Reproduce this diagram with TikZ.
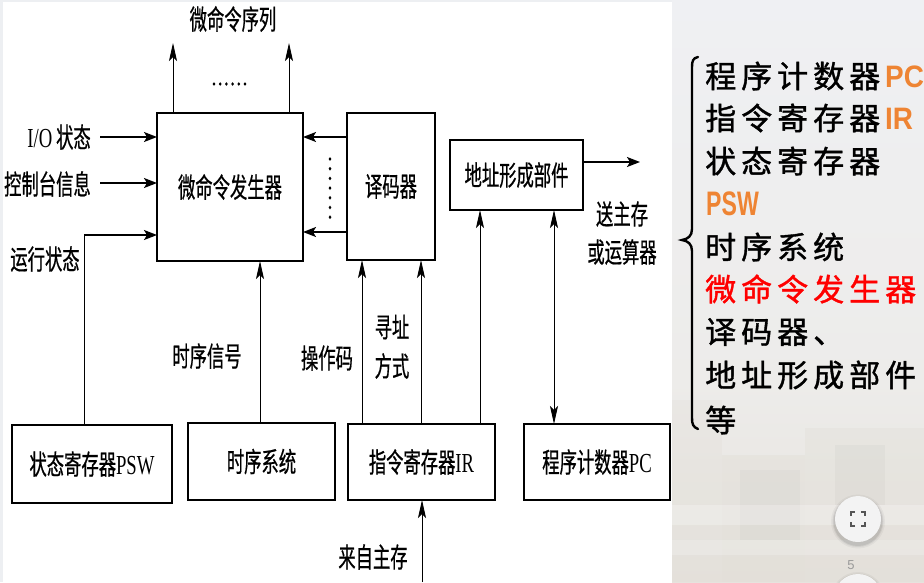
\documentclass[tikz,border=0pt]{standalone}
\usepackage{fontspec}
\setmainfont{Liberation Serif}
% narrow faces for the block diagram
\newfontfamily\dgcjk[FakeStretch=0.63,FakeBold=0.6]{Noto Sans CJK SC}
\newfontfamily\dglat[FakeStretch=0.68]{Liberation Serif}
% faces for the list on the right
\newfontfamily\listcjk[FakeBold=1.2]{Noto Sans CJK SC}
\newfontfamily\listlat{Liberation Sans}
\usetikzlibrary{arrows.meta}

\definecolor{pagebg}{HTML}{EDEFF2}
\definecolor{phototop}{HTML}{EFF0F3}
\definecolor{photomid}{HTML}{EDECEA}
\definecolor{photobot}{HTML}{E6E3DE}
\definecolor{bldg}{HTML}{D9D3C8}
\definecolor{hl}{HTML}{EE8433}
\definecolor{btn}{HTML}{F3F3F3}
\definecolor{icon}{HTML}{555555}
\definecolor{pgnum}{HTML}{9A9A9A}

\newcommand\dgfont{\fontsize{27.5}{30}\selectfont\dgcjk}
\newcommand\lt[1]{{\dglat #1}}

% letter-spaced characters for the list
\makeatletter
\def\spaced#1{\spaced@#1\relax}
\def\spaced@#1{\ifx\relax#1\else#1\hspace{5pt}\expandafter\spaced@\fi}
\makeatother
\newcommand\listfont{\fontsize{31}{36}\selectfont\listcjk}
\newcommand\hlat[2][0.9]{{\color{hl}\listlat\bfseries\scalebox{#1}[1]{#2}}}

\begin{document}
\begin{tikzpicture}[x=1pt,y=-1pt,
  box/.style={draw,line width=2.2pt,inner sep=0pt,outer sep=0pt,fill=white,font=\dgfont},
  lab/.style={inner sep=0pt,font=\dgfont},
  harr/.style={line width=1.5pt,-{Stealth[length=13pt,width=10pt,inset=3pt]}},
  varr/.style={line width=0.9pt,-{Stealth[length=18pt,width=8pt,inset=4pt]}},
  vboth/.style={line width=0.9pt,{Stealth[length=18pt,width=8pt,inset=4pt]}-{Stealth[length=18pt,width=8pt,inset=4pt]}},
  vline/.style={line width=0.9pt},
  item/.style={anchor=west,inner sep=0pt,font=\listfont}]

\useasboundingbox (0,0) rectangle (924,582);
\begin{scope}
\clip (0,0) rectangle (924,582);

% page and photo backdrop
\fill[pagebg] (0,0) rectangle (924,582);
\shade[top color=phototop, bottom color=photomid] (672,0) rectangle (924,380);
\shade[top color=photomid, bottom color=photobot] (672,380) rectangle (924,582);
\fill[bldg,opacity=0.15] (672,400) rectangle (722,582);
\fill[bldg,opacity=0.22] (722,455) rectangle (805,582);
\fill[bldg,opacity=0.18] (805,428) rectangle (924,582);
\fill[gray,opacity=0.06] (835,445) rectangle (885,505);
\fill[gray,opacity=0.05] (740,470) rectangle (800,540);
\fill[white,opacity=0.25] (672,505) rectangle (924,525);
\fill[white,opacity=0.20] (672,540) rectangle (924,555);

% white sheet of the block diagram
\fill[white] (3,2) rectangle (672,582);

% ---- blocks ----
\node[box,minimum width=146pt,minimum height=148pt] (mg) at (230,187) {微命令发生器};
\node[box,minimum width=88pt,minimum height=147pt] (dec) at (391,186.5) {译码器};
\node[box,minimum width=133pt,minimum height=70pt] (addr) at (516.5,175) {地址形成部件};
\node[box,minimum width=160pt,minimum height=78pt] (psw) at (92,464) {状态寄存器\lt{PSW}};
\node[box,minimum width=147pt,minimum height=77pt] (seq) at (261.5,461.5) {时序系统};
\node[box,minimum width=147pt,minimum height=76pt] (ir) at (421.5,462) {指令寄存器\lt{IR}};
\node[box,minimum width=146pt,minimum height=76pt] (pc) at (597,462) {程序计数器\lt{PC}};

% ---- labels ----
\node[lab] (lseq) at (233,19) {微命令序列};
\node[lab,anchor=east] (lio) at (91,137) {\lt{I/O} 状态};
\node[lab,anchor=east] (lctl) at (91,184) {控制台信息};
\node[lab] (lrun) at (45,259) {运行状态};
\node[lab] (lsig) at (207,356) {时序信号};
\node[lab] (lop) at (327,358) {操作码};
\node[lab] (lmode1) at (392,327) {寻址};
\node[lab] (lmode2) at (392,366) {方式};
\node[lab] (lmem) at (373,557) {来自主存};
\node[lab] (lout1) at (622,214) {送主存};
\node[lab] (lout2) at (622,252) {或运算器};

% ---- free ends ----
\coordinate (up1) at (173,43);
\coordinate (up2) at (289,43);
\coordinate (ioS) at (100,137);
\coordinate (ctlS) at (100,183);
\coordinate (runX) at (84,235);
\coordinate (d1) at (0,137);
\coordinate (d2) at (0,232);
\coordinate (tm) at (260,0);
\coordinate (op) at (362,0);
\coordinate (mode) at (421,0);
\coordinate (ad) at (480,0);
\coordinate (pcl) at (554,0);
\coordinate (outE) at (640,162);
\coordinate (memS) at (422,582);

% ---- connectors ----
\draw[varr] (mg.north -| up1) -- (up1);
\draw[varr] (mg.north -| up2) -- (up2);
\draw[harr] (ioS) -- (mg.west |- ioS);
\draw[harr] (ctlS) -- (mg.west |- ctlS);
\draw[vline] (psw.north -| runX) -- (runX);
\draw[harr] (runX) -- (mg.west |- runX);
\draw[harr] (dec.west |- d1) -- (mg.east |- d1);
\draw[harr] (dec.west |- d2) -- (mg.east |- d2);
\draw[varr] (seq.north -| tm) -- (mg.south -| tm);
\draw[varr] (ir.north -| op) -- (dec.south -| op);
\draw[varr] (ir.north -| mode) -- (dec.south -| mode);
\draw[varr] (ir.north -| ad) -- (addr.south -| ad);
\draw[vboth] (pc.north -| pcl) -- (addr.south -| pcl);
\draw[harr] (addr.east |- outE) -- (outE);
\draw[varr] (memS) -- (ir.south -| memS);

% dots between the columns of arrows
\foreach \i in {0,...,5} \fill (214+6.2*\i,84) ellipse (1.4pt and 1.8pt);
\foreach \i in {0,...,6} \fill (330,159+9.7*\i) ellipse (1.4pt and 1.9pt);

% ---- list on the right ----
\draw[line width=2.4pt,line cap=round]
  (698,57) .. controls (693,58) and (692,61) .. (692,67) -- (692,229)
  .. controls (692,236) and (688,239) .. (682,240)
  .. controls (688,241) and (692,244) .. (692,251) -- (692,418)
  .. controls (692,424) and (693,427) .. (698,429);
\node[item] (i1) at (705,76) {\spaced{程序计数器}\hlat{PC}};
\node[item] (i2) at (705,118) {\spaced{指令寄存器}\hlat{IR}};
\node[item] (i3) at (705,161) {\spaced{状态寄存器}};
\node[item] (i4) at (706,204) {\fontsize{34}{36}\selectfont\hlat[0.68]{PSW}};
\node[item] (i5) at (705,247) {\spaced{时序系统}};
\node[item,text=red] (i6) at (705,289) {\spaced{微命令发生器}};
\node[item] (i7) at (705,332) {\spaced{译码器、}};
\node[item] (i8) at (705,375) {\spaced{地址形成部件}};
\node[item] (i9) at (705,420) {\spaced{等}};

% ---- viewer buttons ----
\foreach \r/\o in {27/0.04,25.5/0.06,24.5/0.08}
  \fill[black,opacity=\o] (858,521.5) circle (\r pt);
\fill[btn] (858,519) circle (23pt);
\draw[icon,line width=1.6pt]
  (851,516) -- (851,512) -- (855,512)
  (861,512) -- (865,512) -- (865,516)
  (865,522) -- (865,526) -- (861,526)
  (855,526) -- (851,526) -- (851,522);
\node[inner sep=0pt,text=pgnum,font=\listlat\fontsize{13}{14}\selectfont] (pg) at (851,565) {5};
\foreach \r/\o in {27/0.04,25.5/0.06}
  \fill[black,opacity=\o] (858,599) circle (\r pt);
\fill[btn] (858,598) circle (24pt);
\end{scope}
\end{tikzpicture}
\end{document}
